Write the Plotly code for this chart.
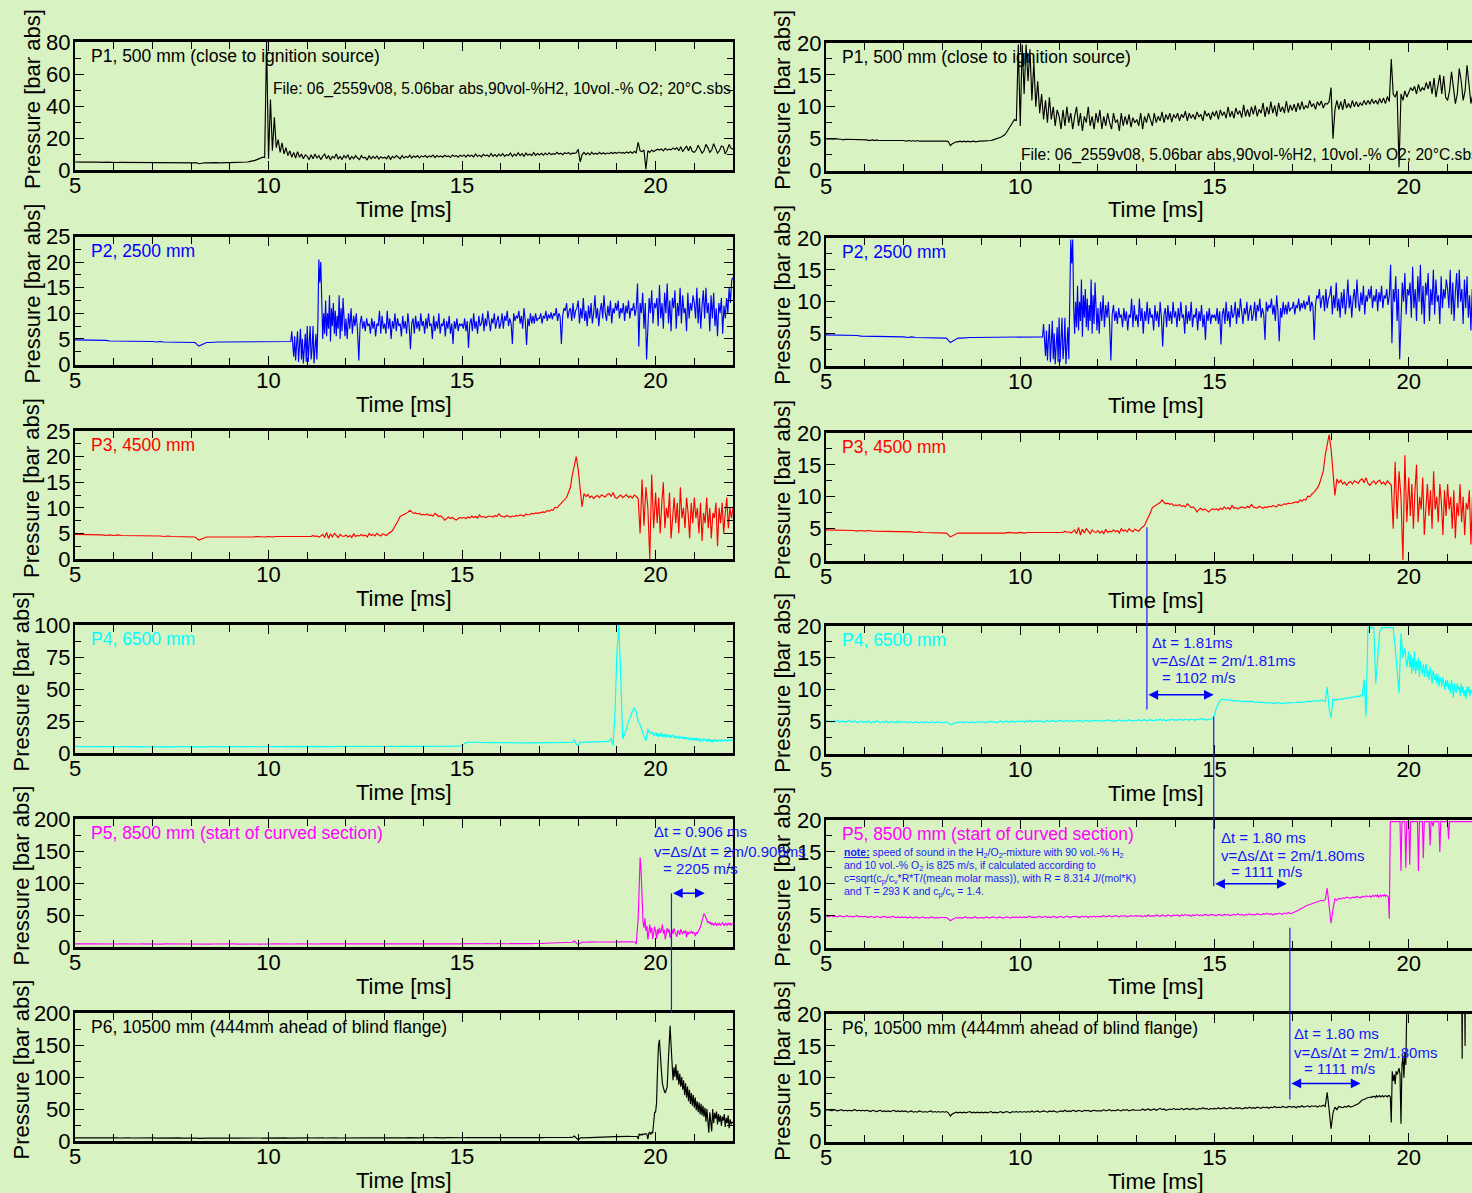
import numpy as np
import plotly.graph_objects as go

W, H = 1472, 1193
BG = "#d9f2c1"
FONT = "Liberation Sans, Arial, Helvetica, sans-serif"
BLUE_TXT = "#1414ff"

# ---------------------------------------------------------------------------
# DATA  (pressure in bar abs). Each row holds the samples of one millisecond,
# first row = 5-6 ms, last row = 21-22 ms; *_END is the value at 22 ms.
# ---------------------------------------------------------------------------
T_START = 5.0

P1_ROWS = [
    [5.0, 4.9, 5.0, 4.9, 4.9, 5.0, 4.9, 4.9, 4.9, 4.8, 4.9, 4.9, 4.8, 4.9, 4.8, 4.8, 4.9, 4.8, 4.8, 4.8],
    [4.8, 4.8, 4.7, 4.8, 4.8, 4.7, 4.8, 4.7, 4.7, 4.8, 4.7, 4.7, 4.8, 4.7, 4.7, 4.7, 4.8, 4.7, 4.7, 4.7],
    [4.7, 4.6, 4.7, 4.7, 4.6, 4.7, 4.6, 4.7, 4.6, 4.6, 4.7, 4.6, 4.6, 4.7, 4.6, 4.6, 4.6, 4.7, 4.6, 4.6],
    [4.6, 4.6, 4.6, 4.5, 3.9, 4.2, 4.4, 4.5, 4.5, 4.6, 4.5, 4.6, 4.5, 4.6, 4.5, 4.6, 4.6, 4.5, 4.6, 4.6],
    [4.6, 4.6, 4.7, 4.6, 4.7, 4.7, 4.8, 4.9, 5.0, 5.0, 5.2, 5.4, 5.6, 6.0, 6.5, 7.0, 7.5, 8.0, 7.8, 80.0],
    [7.0, 44.0, 12.0, 33.0, 14.0, 19.0, 11.0, 17.0, 10.0, 14.0, 9.0, 12.0, 8.0, 11.0, 7.5, 11.5, 8.0, 10.0, 7.0, 9.5],
    [8.5, 6.5, 9.5, 7.0, 10.0, 7.5, 9.0, 6.5, 8.5, 10.0, 7.0, 9.0, 6.2, 8.5, 7.5, 10.0, 7.0, 8.5, 6.5, 9.0],
    [7.5, 9.5, 6.5, 8.5, 7.0, 9.0, 7.5, 6.5, 9.0, 7.5, 8.0, 6.2, 9.0, 7.0, 8.5, 7.2, 8.8, 6.8, 8.3, 7.5],
    [8.0, 7.0, 9.0, 6.5, 8.5, 7.5, 9.0, 8.0, 7.0, 9.0, 7.5, 8.5, 7.8, 9.2, 7.5, 8.8, 8.0, 9.0, 7.6, 8.8],
    [8.2, 9.0, 7.8, 8.8, 8.3, 9.3, 7.8, 9.0, 8.2, 8.8, 8.0, 9.2, 8.4, 8.8, 7.8, 9.4, 8.5, 9.0, 8.0, 9.2],
    [8.5, 9.4, 8.0, 9.5, 8.6, 9.2, 8.2, 10.0, 8.4, 9.3, 8.2, 9.8, 8.8, 9.4, 8.3, 10.3, 8.5, 9.6, 8.4, 10.0],
    [8.8, 10.2, 8.5, 9.6, 9.0, 10.6, 8.4, 10.0, 8.8, 10.8, 9.0, 10.2, 8.5, 10.6, 9.2, 10.0, 9.0, 10.9, 9.1, 10.3],
    [9.4, 10.4, 9.2, 10.6, 9.5, 10.8, 9.6, 10.2, 9.8, 11.0, 10.0, 10.5, 9.6, 10.8, 10.2, 10.9, 9.8, 10.5, 10.4, 10.8],
    [13.0, 5.0, 9.5, 11.0, 9.6, 10.8, 9.5, 11.2, 9.8, 10.5, 9.8, 11.0, 10.0, 10.8, 10.0, 10.6, 10.2, 11.0, 10.3, 11.0],
    [10.4, 11.2, 10.5, 11.0, 10.4, 11.3, 10.6, 11.4, 10.5, 11.6, 10.8, 17.5, 12.0, 11.5, 12.5, 0.5, 12.0, 11.0, 12.5, 11.5],
    [12.2, 13.0, 12.5, 13.2, 12.0, 13.5, 12.4, 13.0, 12.6, 13.8, 12.8, 14.0, 12.0, 14.5, 11.5, 13.5, 15.0, 12.0, 14.8, 11.5],
    [11.0, 12.5, 15.5, 13.0, 10.5, 12.0, 16.0, 14.0, 11.0, 12.5, 16.5, 13.5, 10.5, 12.0, 15.0, 14.5, 10.0, 12.5, 16.0, 13.5],
]
P1_END = 13.0

P2_ROWS = [
    [4.8, 4.8, 4.8, 4.7, 4.7, 4.8, 4.7, 4.7, 4.7, 4.6],
    [4.6, 4.6, 4.6, 4.5, 4.6, 4.5, 4.5, 4.5, 4.5, 4.5],
    [4.5, 4.4, 4.5, 4.4, 4.4, 4.4, 4.4, 4.4, 4.3, 4.4],
    [4.3, 4.3, 3.6, 4.0, 4.3, 4.3, 4.4, 4.4, 4.4, 4.4],
    [4.4, 4.4, 4.4, 4.4, 4.4, 4.4, 4.4, 4.4, 4.4, 4.4],
    [4.4, 4.4, 4.4, 4.4, 4.4, 4.4, 4.4, 4.4, 4.4, 4.4, 4.4, 4.4, 4.4, 4.4, 4.4, 4.4, 4.4, 4.4, 4.4, 4.4,
     4.4, 4.4, 4.4, 4.5, 6.5, 4.0, 1.5, 5.5, 0.8, 4.0, 6.5, 0.5, 3.0, 7.0, 1.0, 5.0, 0.2, 4.5, 6.0, 0.5],
    [7.5, 0.5, 5.0, 7.5, 1.0, 3.0, 7.5, 0.2, 3.0, 6.0, 1.0, 8.0, 20.5, 16.0, 20.0, 9.0, 5.0, 10.0, 6.0, 12.5,
     5.5, 10.0, 7.0, 13.5, 4.5, 11.0, 7.5, 12.0, 6.0, 10.5, 5.5, 9.5, 7.0, 13.5, 5.0, 11.0, 6.5, 13.0, 8.0, 5.5],
    [9.0, 5.0, 10.0, 7.0, 11.0, 6.0, 9.5, 7.5, 10.0, 6.5, 0.8, 8.0, 9.5, 7.0, 8.5,
     6.5, 9.0, 7.5, 8.0, 6.0, 9.0, 7.0, 8.5, 5.5, 8.0, 7.5, 10.5, 6.0, 9.5, 7.0],
    [8.0, 6.0, 10.5, 7.0, 9.0, 5.0, 8.5, 7.0, 10.0, 6.5, 9.0, 7.5, 8.0, 5.5, 9.5,
     7.0, 8.5, 6.0, 10.0, 7.5, 3.0, 8.0, 9.0, 6.0, 9.5, 7.0, 8.5, 6.5, 10.0, 7.5],
    [8.5, 6.0, 9.0, 7.0, 10.0, 7.5, 8.0, 5.0, 9.5, 6.5, 8.5, 7.0, 10.0, 6.0, 8.0,
     7.5, 9.0, 5.5, 8.5, 7.0, 9.5, 6.0, 8.0, 4.0, 8.5, 7.0, 9.0, 6.5, 8.0, 7.5],
    [8.0, 7.0, 9.0, 6.5, 8.5, 3.3, 8.0, 9.0, 6.5, 10.0, 7.0, 8.5, 6.0, 9.5, 7.5,
     8.0, 10.0, 6.5, 9.0, 7.5, 10.5, 8.0, 6.5, 9.0, 8.0, 10.0, 7.0, 8.5, 9.5, 7.0],
    [8.0, 10.0, 7.0, 9.5, 8.5, 10.5, 7.5, 9.0, 8.0, 4.0, 10.0, 8.5, 9.5, 9.0, 10.5,
     8.0, 9.5, 7.0, 11.0, 8.5, 3.8, 9.0, 7.5, 10.0, 8.0, 9.5, 8.0, 10.0, 8.5, 9.0],
    [9.0, 10.0, 8.0, 9.5, 9.0, 10.5, 8.5, 9.8, 9.0, 10.2, 8.8, 10.0, 9.5, 11.0, 8.5,
     10.0, 9.3, 4.0, 9.5, 11.0, 10.5, 12.0, 9.0, 10.5, 11.0, 8.5, 12.0, 9.0, 10.5, 11.0],
    [12.5, 8.0, 11.0, 9.0, 13.0, 8.5, 10.5, 7.5, 11.5, 9.0, 12.0, 8.0, 10.0, 13.5, 9.0,
     11.0, 7.5, 10.5, 12.0, 9.0, 13.5, 10.0, 8.5, 11.5, 9.5, 12.5, 8.0, 11.0, 10.0, 12.0],
    [10.5, 12.5, 9.0, 11.0, 10.0, 12.0, 8.5, 11.5, 10.0, 12.5, 9.0, 11.0, 10.5, 12.0, 9.5,
     11.0, 15.8, 3.5, 12.0, 10.0, 14.0, 7.0, 12.0, 1.0, 9.0, 13.0, 10.0, 14.5, 8.0, 12.0],
    [11.0, 13.0, 7.5, 15.5, 9.0, 12.0, 7.0, 14.0, 10.0, 15.8, 8.0, 12.5, 6.5, 13.0, 11.0,
     14.5, 7.0, 12.0, 9.5, 15.0, 8.0, 13.5, 10.0, 11.0, 6.5, 14.0, 9.0, 12.0, 10.5, 13.5],
    [12.0, 9.0, 15.0, 8.0, 13.0, 7.0, 11.5, 14.5, 9.0, 15.0, 10.0, 12.0, 6.5, 13.5, 9.0,
     14.0, 7.5, 11.0, 5.5, 12.0, 10.0, 13.0, 6.0, 11.5, 9.0, 13.0, 10.0, 15.0, 12.0, 16.5],
]
P2_END = 17.0

P3_ROWS = [
    [4.8, 4.8, 4.7, 4.8, 4.7, 4.7, 4.7, 4.7, 4.6, 4.7],
    [4.6, 4.7, 4.6, 4.6, 4.6, 4.6, 4.5, 4.6, 4.5, 4.5],
    [4.5, 4.5, 4.5, 4.4, 4.5, 4.4, 4.4, 4.4, 4.4, 4.4],
    [4.4, 4.3, 3.7, 4.0, 4.3, 4.3, 4.3, 4.3, 4.3, 4.2],
    [4.3, 4.3, 4.2, 4.3, 4.3, 4.3, 4.3, 4.4, 4.3, 4.3],
    [4.4, 4.3, 4.4, 4.4, 4.4, 4.5, 4.4, 4.4, 4.5, 4.4],
    [4.4, 4.5, 4.4, 4.6, 4.4, 4.5, 4.3, 4.5, 4.8, 4.2, 5.2, 4.0, 4.9, 4.3, 5.0, 4.6, 4.2, 4.8, 4.5, 4.4],
    [4.7, 4.3, 4.6, 4.2, 4.9, 4.4, 4.6, 4.5, 4.8, 4.5, 4.7, 4.3, 5.0, 4.6, 4.8, 4.5, 5.0, 4.7, 4.5, 4.9],
    [4.8, 4.6, 5.0, 5.2, 5.5, 6.2, 6.8, 7.5, 8.3, 8.5, 8.8, 8.9, 9.1, 9.5, 9.1, 8.9, 9.0, 8.8, 8.9, 8.6],
    [8.7, 8.6, 8.8, 8.5, 8.6, 8.4, 8.9, 8.6, 8.3, 8.4, 8.1, 7.6, 8.0, 8.2, 7.9, 8.1, 7.8, 7.6, 7.9, 8.1],
    [8.0, 8.1, 7.9, 8.2, 8.0, 8.4, 8.1, 8.3, 8.0, 8.6, 8.2, 8.3, 8.1, 8.2, 8.4, 8.3, 8.2, 8.5, 8.3, 8.8],
    [8.4, 8.3, 8.2, 8.5, 8.3, 8.2, 8.4, 8.3, 8.5, 8.4, 8.6, 8.5, 8.4, 8.8, 8.6, 8.7, 8.9, 8.8, 9.0, 8.9],
    [9.0, 9.1, 9.2, 9.1, 9.5, 9.3, 9.6, 9.5, 10.1, 10.0, 10.4, 10.6, 11.0, 11.4, 12.0, 13.0, 14.0, 16.5, 18.5, 20.0],
    [17.5, 14.0, 10.2, 12.8, 12.2, 12.6, 12.0, 12.3, 11.8, 12.2, 12.4, 12.0, 12.5, 12.3, 12.1, 12.6, 12.8, 12.2, 13.0, 12.1],
    [11.8, 12.2, 12.5, 12.0, 12.4, 12.6, 12.0, 12.3, 11.9, 12.5, 12.2, 11.8, 5.0, 15.5, 6.5, 14.0, 10.0, 0.0, 16.5, 6.0],
    [13.0, 7.0, 12.0, 5.0, 11.0, 15.0, 6.0, 10.0, 8.0, 13.0, 4.0, 9.0, 12.0, 7.0, 11.0, 5.0, 14.0, 8.0, 10.0, 6.0,
     12.0, 9.0, 4.0, 11.0, 7.0],
    [12.0, 8.0, 10.0, 5.0, 11.0, 3.5, 9.0, 7.0, 12.0, 6.0, 10.0, 4.0, 9.0, 8.0, 11.0, 2.5, 10.0, 7.0, 11.0, 5.0,
     9.0, 12.0, 6.0, 10.0, 8.0],
]
P3_END = 10.0

P4_ROWS = [
    [5.2, 5.0, 5.1, 4.9, 5.1, 5.0, 5.2, 4.9, 5.0, 5.1, 4.9, 5.0, 5.2, 4.9, 5.0, 5.1, 4.8, 5.0, 5.1, 4.9],
    [5.0, 4.9, 5.1, 4.8, 5.0, 4.9, 5.1, 5.0, 4.8, 5.0, 4.9, 5.1, 4.8, 5.0, 4.9, 5.0, 4.8, 5.1, 4.9, 5.0],
    [4.9, 5.0, 4.8, 5.0, 4.9, 4.8, 5.0, 4.9, 4.8, 5.0, 4.9, 4.8, 5.0, 4.8, 4.9, 5.0, 4.8, 4.9, 5.0, 4.8],
    [4.9, 4.8, 5.0, 4.8, 4.5, 4.6, 4.8, 4.9, 4.8, 5.0, 4.9, 4.8, 5.0, 4.9, 4.8, 5.0, 4.9, 4.8, 5.0, 4.9],
    [4.9, 5.0, 4.8, 5.0, 4.9, 5.1, 4.9, 5.0, 4.8, 5.0, 5.1, 4.9, 5.0, 5.1, 4.9, 5.0, 5.1, 4.9, 5.0, 5.1],
    [5.0, 5.1, 4.9, 5.1, 5.0, 5.2, 4.9, 5.1, 5.0, 5.2, 5.0, 5.1, 4.9, 5.1, 5.2, 5.0, 5.1, 5.2, 5.0, 5.1],
    [5.1, 5.2, 5.0, 5.1, 5.2, 5.0, 5.2, 5.1, 5.0, 5.2, 5.1, 5.2, 5.0, 5.1, 5.2, 5.1, 5.0, 5.2, 5.1, 5.2],
    [5.1, 5.2, 5.0, 5.2, 5.1, 5.3, 5.1, 5.2, 5.0, 5.2, 5.1, 5.3, 5.1, 5.2, 5.0, 5.2, 5.3, 5.1, 5.2, 5.1],
    [5.2, 5.3, 5.1, 5.2, 5.3, 5.1, 5.2, 5.3, 5.2, 5.1, 5.3, 5.2, 5.4, 5.2, 5.3, 5.1, 5.3, 5.2, 5.4, 5.2],
    [5.3, 5.2, 5.4, 5.3, 5.2, 5.4, 5.3, 5.2, 5.4, 5.3, 5.2, 5.4, 5.3, 5.5, 5.3, 5.4, 5.2, 5.4, 5.3, 5.5],
    [6.0, 7.2, 7.9, 8.4, 8.5, 8.4, 8.5, 8.3, 8.4, 8.3, 8.2, 8.3, 8.2, 8.3, 8.1, 8.2, 8.1, 8.2, 8.1, 8.2],
    [8.1, 8.0, 8.1, 8.0, 8.1, 8.0, 7.9, 8.0, 7.9, 8.0, 7.9, 7.8, 7.9, 8.0, 7.9, 7.8, 7.9, 7.9, 8.0, 7.9],
    [8.0, 7.9, 8.0, 8.1, 8.0, 8.1, 8.0, 8.1, 8.2, 8.1, 8.2, 8.3, 8.2, 8.3, 8.2, 8.4, 8.3, 8.2, 10.4, 7.0],
    [5.6, 8.6, 8.3, 8.5, 8.4, 8.6, 8.5, 8.7, 8.6, 8.8, 8.7, 8.9, 8.8, 9.0, 8.9, 9.1, 9.0, 11.6, 5.8, 30.0],
    [78.0, 100.0, 60.0, 11.0, 15.0, 19.0, 25.0, 28.0, 33.0, 35.0, 32.0, 25.0, 22.0, 16.8, 13.0, 9.5, 18.9, 15.0, 16.5, 13.5],
    [16.0, 13.5, 15.5, 12.5, 15.0, 13.0, 16.0, 12.5, 14.5, 13.0, 15.0, 12.0, 14.5, 13.5, 12.5, 14.0, 12.0, 13.5, 14.0, 12.0,
     13.0, 11.5, 13.5, 12.5, 11.0, 13.0, 12.0, 11.5, 12.5, 11.0, 12.5, 10.5, 12.0, 11.5, 10.5, 12.0, 11.0, 10.0, 11.5, 10.5],
    [11.5, 10.0, 11.0, 9.5, 11.5, 10.5, 8.7, 11.0, 10.0, 9.5, 11.0, 10.0, 10.5, 9.0, 11.0, 9.5, 10.5, 9.0, 10.0, 8.5,
     10.5, 9.5, 10.5, 9.0, 10.0, 9.5, 10.0, 9.0, 10.5, 9.5, 10.0, 9.5, 10.5, 9.8, 9.2, 10.2, 9.6, 10.4, 9.8, 10.2],
]
P4_END = 10.0

P5_ROWS = [
    [5.0, 4.8, 4.9, 5.0, 4.8, 4.9, 4.8, 5.0, 4.9, 4.8, 4.9, 5.0, 4.8, 4.9, 4.8, 4.9, 5.0, 4.8, 4.9, 4.8],
    [4.9, 4.8, 4.7, 4.9, 4.8, 4.7, 4.9, 4.8, 4.7, 4.8, 4.9, 4.7, 4.8, 4.7, 4.9, 4.8, 4.7, 4.8, 4.7, 4.8],
    [4.7, 4.8, 4.6, 4.8, 4.7, 4.6, 4.8, 4.7, 4.6, 4.7, 4.8, 4.6, 4.7, 4.6, 4.8, 4.7, 4.6, 4.7, 4.6, 4.7],
    [4.7, 4.6, 4.7, 4.5, 4.2, 4.4, 4.6, 4.7, 4.6, 4.7, 4.6, 4.7, 4.8, 4.6, 4.7, 4.6, 4.7, 4.8, 4.6, 4.7],
    [4.7, 4.6, 4.7, 4.8, 4.6, 4.7, 4.8, 4.7, 4.6, 4.8, 4.7, 4.6, 4.7, 4.8, 4.7, 4.6, 4.8, 4.7, 4.8, 4.7],
    [4.8, 4.7, 4.8, 4.7, 4.8, 4.9, 4.7, 4.8, 4.7, 4.8, 4.9, 4.7, 4.8, 4.9, 4.7, 4.8, 4.7, 4.9, 4.8, 4.7],
    [4.8, 4.9, 4.7, 4.8, 4.9, 4.8, 4.7, 4.9, 4.8, 4.9, 4.7, 4.8, 4.9, 4.8, 4.9, 4.7, 4.9, 4.8, 4.9, 4.8],
    [4.9, 4.8, 4.9, 5.0, 4.8, 4.9, 5.0, 4.8, 4.9, 5.0, 4.9, 4.8, 5.0, 4.9, 5.0, 4.8, 4.9, 5.0, 4.9, 5.0],
    [5.0, 4.9, 5.0, 4.8, 5.0, 4.9, 5.1, 4.9, 5.0, 4.9, 5.1, 5.0, 4.9, 5.1, 5.0, 4.9, 5.1, 5.0, 4.9, 5.1],
    [5.0, 5.1, 4.9, 5.1, 5.0, 5.2, 5.0, 5.1, 4.9, 5.1, 5.0, 5.2, 5.0, 5.1, 5.0, 5.2, 5.1, 5.0, 5.2, 5.1],
    [5.1, 5.0, 5.2, 5.1, 5.0, 5.2, 5.1, 5.2, 5.0, 5.1, 5.2, 5.1, 5.3, 5.1, 5.2, 5.0, 5.2, 5.1, 5.3, 5.1],
    [5.2, 5.1, 5.3, 5.2, 5.1, 5.3, 5.2, 5.4, 5.2, 5.3, 5.1, 5.3, 5.2, 5.4, 5.3, 5.2, 5.4, 5.3, 5.5, 5.3],
    [5.4, 5.5, 5.6, 5.8, 6.0, 6.1, 6.3, 6.5, 6.6, 6.8, 6.9, 7.0, 7.1, 7.2, 7.3, 7.4, 7.3, 7.5, 9.3, 6.5],
    [3.8, 6.0, 7.6, 7.4, 7.7, 7.6, 7.8, 7.7, 7.9, 7.8, 7.7, 7.9, 7.8, 8.0, 7.9, 7.8, 8.0, 7.9, 8.1, 8.0],
    [8.1, 7.9, 8.0, 8.2, 8.0, 8.1, 8.2, 8.0, 8.3, 7.9, 8.1, 8.2, 8.0, 8.2, 8.1, 8.3, 8.0, 8.2, 8.1, 7.9,
     4.5, 21.0, 45.0, 90.0, 140.0, 120.0, 70.0, 40.0, 30.0, 45.0, 25.0, 33.0, 12.0, 28.0, 35.0, 22.0, 30.0, 12.5, 26.0, 32.0],
    [24.0, 13.0, 28.0, 20.0, 30.0, 22.0, 26.0, 35.0, 21.0, 27.0, 12.0, 25.0, 30.0, 23.0, 28.0, 14.0, 22.0, 27.0, 20.0, 29.0,
     24.0, 21.0, 16.0, 26.0, 22.0, 19.0, 28.0, 23.0, 20.0, 25.0, 22.0, 26.0, 15.0, 24.0, 20.0, 23.0, 22.0, 25.0, 21.0, 23.0],
    [22.0, 17.0, 23.0, 21.0, 24.0, 26.0, 30.0, 35.0, 42.0, 48.0, 52.0, 50.0, 45.0, 42.0, 38.0, 40.0, 36.0, 38.0, 35.0, 37.0,
     34.0, 36.0, 38.0, 33.0, 36.0, 35.0, 37.0, 34.0, 36.0, 38.0, 35.0, 33.0, 37.0, 36.0, 34.0, 38.0, 35.0, 37.0, 34.0, 36.0],
]
P5_END = 37.0

P6_ROWS = [
    [4.9, 5.0, 4.9, 4.8, 5.0, 4.9, 4.8, 4.9, 5.0, 4.8, 4.9, 4.8, 4.9, 4.8, 4.9, 5.0, 4.8, 4.9, 4.8, 4.9],
    [4.8, 4.9, 4.8, 4.7, 4.9, 4.8, 4.7, 4.8, 4.9, 4.7, 4.8, 4.7, 4.8, 4.7, 4.8, 4.9, 4.7, 4.8, 4.7, 4.8],
    [4.7, 4.8, 4.6, 4.7, 4.8, 4.6, 4.7, 4.6, 4.8, 4.7, 4.6, 4.7, 4.6, 4.7, 4.8, 4.6, 4.7, 4.6, 4.7, 4.6],
    [4.7, 4.6, 4.7, 4.5, 4.0, 4.3, 4.5, 4.6, 4.5, 4.6, 4.5, 4.6, 4.5, 4.6, 4.7, 4.5, 4.6, 4.5, 4.6, 4.5],
    [4.6, 4.5, 4.6, 4.5, 4.6, 4.7, 4.5, 4.6, 4.5, 4.6, 4.7, 4.5, 4.6, 4.7, 4.6, 4.5, 4.7, 4.6, 4.7, 4.6],
    [4.7, 4.6, 4.7, 4.6, 4.7, 4.6, 4.8, 4.6, 4.7, 4.8, 4.6, 4.7, 4.8, 4.7, 4.6, 4.8, 4.7, 4.8, 4.7, 4.6],
    [4.7, 4.8, 4.7, 4.9, 4.7, 4.8, 4.7, 4.9, 4.8, 4.7, 4.9, 4.8, 4.7, 4.9, 4.8, 4.9, 4.7, 4.8, 4.9, 4.8],
    [4.8, 4.9, 4.8, 5.0, 4.8, 4.9, 5.0, 4.8, 4.9, 4.8, 5.0, 4.9, 4.8, 5.0, 4.9, 5.0, 4.8, 4.9, 5.0, 4.9],
    [4.9, 5.0, 4.9, 5.1, 4.9, 5.0, 5.1, 4.9, 5.0, 5.1, 4.9, 5.0, 5.2, 5.0, 5.1, 4.9, 5.0, 5.1, 5.0, 5.2],
    [5.0, 5.1, 5.0, 5.2, 5.0, 5.1, 5.2, 5.0, 5.1, 5.2, 5.1, 5.0, 5.2, 5.1, 5.3, 5.1, 5.2, 5.0, 5.2, 5.1],
    [5.2, 5.1, 5.3, 5.1, 5.2, 5.3, 5.1, 5.2, 5.3, 5.2, 5.1, 5.3, 5.2, 5.3, 5.1, 5.2, 5.3, 5.2, 5.4, 5.2],
    [5.3, 5.2, 5.4, 5.3, 5.2, 5.4, 5.3, 5.4, 5.2, 5.4, 5.3, 5.5, 5.3, 5.4, 5.3, 5.5, 5.4, 5.3, 5.5, 5.4],
    [5.4, 5.5, 5.3, 5.5, 5.4, 5.6, 5.4, 5.5, 5.6, 5.4, 5.6, 5.5, 5.6, 5.4, 5.6, 5.5, 5.7, 5.5, 7.7, 5.0],
    [2.0, 4.5, 5.4, 5.0, 5.5, 5.4, 5.3, 5.5, 5.4, 5.6, 5.4, 5.5, 5.6, 5.7, 5.9, 6.2, 6.5, 6.6, 6.8, 6.9],
    [6.9, 7.0, 6.9, 7.1, 7.0, 7.1, 6.9, 7.2, 7.0, 7.1, 7.2, 7.0, 7.1, 7.2, 7.0, 7.1, 7.2, 7.1, 7.0, 7.2,
     7.2, 7.0, 3.0, 11.0, 9.5, 10.5, 9.0, 11.0, 10.5, 11.0, 11.5, 10.5, 2.8, 12.0, 13.5, 10.0, 14.0, 12.0, 25.0, 45.0],
    [45.0, 60.0, 110.0, 150.0, 158.0, 140.0, 110.0, 90.0, 82.0, 78.0, 75.0, 80.0, 85.0, 120.0, 165.0, 180.0, 150.0, 110.0, 95.0, 115.0,
     100.0, 120.0, 95.0, 110.0, 88.0, 105.0, 85.0, 100.0, 80.0, 95.0, 72.0, 90.0, 68.0, 85.0, 62.0, 80.0, 58.0, 75.0, 55.0, 72.0],
    [52.0, 68.0, 48.0, 62.0, 45.0, 60.0, 42.0, 58.0, 40.0, 55.0, 38.0, 52.0, 30.0, 50.0, 35.0, 13.0, 45.0, 32.0, 15.0, 50.0,
     28.0, 44.0, 35.0, 46.0, 26.0, 42.0, 30.0, 40.0, 24.0, 38.0, 32.0, 42.0, 22.0, 36.0, 28.0, 40.0, 20.0, 34.0, 26.0, 30.0],
]
P6_END = 28.0

SENSOR_ROWS = [P1_ROWS, P2_ROWS, P3_ROWS, P4_ROWS, P5_ROWS, P6_ROWS]
SENSOR_END = [P1_END, P2_END, P3_END, P4_END, P5_END, P6_END]
SENSOR_LABELS = [
    "P1, 500 mm (close to ignition source)",
    "P2, 2500 mm",
    "P3, 4500 mm",
    "P4, 6500 mm",
    "P5, 8500 mm (start of curved section)",
    "P6, 10500 mm (444mm ahead of blind flange)",
]
SENSOR_COLORS = ["#000000", "#0000ff", "#ff0000", "#00ffff", "#ff00ff", "#000000"]
LEFT_YMAX = [80, 25, 25, 100, 200, 200]
LEFT_YDTICK = [20, 5, 5, 25, 50, 50]
RIGHT_YMAX = 20
RIGHT_YDTICK = 5
RIGHT_CLIP = [True, True, True, True, True, False]   # recorder clipped at full scale
FILE_TEXT = "File: 06_2559v08, 5.06bar abs,90vol-%H2, 10vol.-% O2; 20°C.sbs"

# time-of-arrival annotations: (t_start, t_end) in ms
DT_LEFT = (20.41, 21.27)
DT_RIGHT = [(13.26, 14.98), (14.98, 16.86), (16.94, 18.76)]
DT_TEXTS_LEFT = ["Δt = 0.906 ms", "v=Δs/Δt = 2m/0.906ms", "= 2205 m/s"]
DT_TEXTS_RIGHT = [
    ["Δt = 1.81ms", "v=Δs/Δt = 2m/1.81ms", "= 1102 m/s"],
    ["Δt = 1.80 ms", "v=Δs/Δt = 2m/1.80ms", "= 1111 m/s"],
    ["Δt = 1.80 ms", "v=Δs/Δt = 2m/1.80ms", "= 1111 m/s"],
]
NOTE_LINES = [
    "<b><u>note:</u></b> speed of sound in the H<sub>2</sub>/O<sub>2</sub>-mixture with 90 vol.-% H<sub>2</sub>",
    "and 10 vol.-% O<sub>2</sub> is 825 m/s, if calculated according to",
    "c=sqrt(c<sub>p</sub>/c<sub>v</sub>*R*T/(mean molar mass)), with R = 8.314 J/(mol*K)",
    "and T = 293 K and c<sub>p</sub>/c<sub>v</sub> = 1.4.",
]

# ---------------------------------------------------------------------------
# LAYOUT GEOMETRY (pixels)
# ---------------------------------------------------------------------------
LEFT_X = (75, 733)
RIGHT_X = (826, 1472)
PX_PER_MS = 38.85
TOPS = [[42, 236.5, 431, 625, 819, 1013], [43, 238, 433, 626, 820, 1014]]
PLOT_H = [128, 127.5]
X_RANGE = [(5, 22), (5, 5 + (RIGHT_X[1] - RIGHT_X[0]) / PX_PER_MS)]
TXT = 22


def series(rows, end):
    t, v = [], []
    for k, row in enumerate(rows):
        n = len(row)
        for i, val in enumerate(row):
            t.append(T_START + k + i / n)
            v.append(val)
    t.append(T_START + len(rows))
    v.append(end)
    return np.array(t), np.array(v, dtype=float)


def ax_num(col, row):
    return row + 1 + 6 * col


def ydom(col, row):
    top = TOPS[col][row]
    return [1 - (top + PLOT_H[col]) / H, 1 - top / H]


def yrange(col, row):
    return (0, LEFT_YMAX[row]) if col == 0 else (0, RIGHT_YMAX)


def paper_y(col, row, v):
    d = ydom(col, row)
    r = yrange(col, row)
    return d[0] + (v - r[0]) / (r[1] - r[0]) * (d[1] - d[0])


def paper_x(col, t):
    xr = X_RANGE[col]
    xpx = LEFT_X if col == 0 else RIGHT_X
    return (xpx[0] + (t - xr[0]) / (xr[1] - xr[0]) * (xpx[1] - xpx[0])) / W


fig = go.Figure()
layout = {}
annotations = []
shapes = []

for col in range(2):
    xpx = LEFT_X if col == 0 else RIGHT_X
    for row in range(6):
        n = ax_num(col, row)
        sfx = "" if n == 1 else str(n)
        t, v = series(SENSOR_ROWS[row], SENSOR_END[row])
        if col == 1 and RIGHT_CLIP[row]:
            v = np.minimum(v, RIGHT_YMAX - 0.25)
        fig.add_trace(go.Scatter(
            x=t, y=v, mode="lines", xaxis="x" + sfx, yaxis="y" + sfx,
            line=dict(color=SENSOR_COLORS[row], width=1.15), hoverinfo="skip",
            showlegend=False,
        ))
        ymax = LEFT_YMAX[row] if col == 0 else RIGHT_YMAX
        ydt = LEFT_YDTICK[row] if col == 0 else RIGHT_YDTICK
        layout["xaxis" + sfx] = dict(
            domain=[xpx[0] / W, xpx[1] / W], range=list(X_RANGE[col]), anchor="y" + sfx,
            automargin=False, ticklabelstandoff=-6,
            tickmode="linear", tick0=0, dtick=5, ticks="inside", ticklen=9, tickwidth=1.3,
            tickcolor="black", showline=True, linewidth=3, linecolor="black",
            mirror="allticks", showgrid=False, zeroline=False,
            minor=dict(tickmode="linear", tick0=0, dtick=1, ticks="inside", ticklen=7,
                       tickwidth=1.1, tickcolor="black", showgrid=False),
            tickfont=dict(family=FONT, size=TXT, color="black"),
        )
        layout["yaxis" + sfx] = dict(
            domain=ydom(col, row), range=[0, ymax], anchor="x" + sfx,
            automargin=False, ticklabelstandoff=-2,
            tickmode="linear", tick0=0, dtick=ydt, ticks="inside", ticklen=9, tickwidth=1.3,
            tickcolor="black", showline=True, linewidth=2, linecolor="black",
            mirror="allticks" if col == 0 else False, showgrid=False, zeroline=False,
            minor=dict(tickmode="linear", tick0=0, dtick=ydt / 2, ticks="inside", ticklen=6,
                       tickwidth=1.1, tickcolor="black", showgrid=False),
            tickfont=dict(family=FONT, size=TXT, color="black"),
        )
        top = TOPS[col][row]
        bottom = top + PLOT_H[col]
        # axis titles
        annotations.append(dict(
            text="Time [ms]", xref="x" + sfx, x=13.5, yref="paper", y=1 - (bottom + 39.5) / H,
            showarrow=False, xanchor="center", yanchor="middle",
            font=dict(family=FONT, size=TXT, color="black")))
        ndig = len(str(ymax))
        annotations.append(dict(
            text="Pressure [bar abs]", xref="paper", x=(xpx[0] - 20 - 11.5 * ndig) / W,
            yref="paper", y=1 - (top + PLOT_H[col] / 2 - 7) / H, textangle=-90,
            showarrow=False, xanchor="center", yanchor="middle",
            font=dict(family=FONT, size=TXT, color="black")))
        # sensor label
        annotations.append(dict(
            text=SENSOR_LABELS[row], xref="paper", x=(xpx[0] + 14) / W,
            yref="paper", y=1 - (top + 14) / H, showarrow=False,
            xanchor="left", yanchor="middle",
            font=dict(family=FONT, size=17.5, color=SENSOR_COLORS[row])))

# file name texts
annotations.append(dict(text=FILE_TEXT, xref="paper", x=271 / W, yref="paper", y=1 - 89 / H,
                        showarrow=False, xanchor="left", yanchor="middle",
                        font=dict(family=FONT, size=15.6, color="black")))
annotations.append(dict(text=FILE_TEXT, xref="paper", x=1019 / W, yref="paper", y=1 - 155 / H,
                        showarrow=False, xanchor="left", yanchor="middle",
                        font=dict(family=FONT, size=15.6, color="black")))

BLUE_LINE = "#1a1aff"


def vline(col, t, row_a, v_a, row_b, v_b):
    shapes.append(dict(type="line", xref="paper", yref="paper",
                       x0=paper_x(col, t), x1=paper_x(col, t),
                       y0=paper_y(col, row_a, v_a), y1=paper_y(col, row_b, v_b),
                       line=dict(color=BLUE_LINE, width=1.2)))


def darrow(col, row, t0, t1, v):
    n = ax_num(col, row)
    sfx = "" if n == 1 else str(n)
    annotations.append(dict(
        x=t1, y=v, ax=t0, ay=v, xref="x" + sfx, yref="y" + sfx, axref="x" + sfx, ayref="y" + sfx,
        text="", showarrow=True, arrowhead=2, startarrowhead=2, arrowside="end+start",
        arrowsize=1.3, startarrowsize=1.3, arrowwidth=1.5, arrowcolor="#0000ff",
        standoff=0, startstandoff=0))


def dtext(col, row, t, values, texts, indent):
    n = ax_num(col, row)
    sfx = "" if n == 1 else str(n)
    for k, (val, txt) in enumerate(zip(values, texts)):
        annotations.append(dict(
            text=txt, xref="x" + sfx, x=t + (indent if k == 2 else 0), yref="y" + sfx, y=val,
            showarrow=False, xanchor="left", yanchor="middle",
            font=dict(family=FONT, size=15, color=BLUE_TXT)))


# left: P5 -> P6
vline(0, DT_LEFT[0], 4, 84, 5, 200)
darrow(0, 4, DT_LEFT[0], DT_LEFT[1], 84)
dtext(0, 4, 19.92, [180, 149, 122], DT_TEXTS_LEFT, 0.22)

# right: P3 -> P4 -> P5 -> P6
vline(1, DT_RIGHT[0][0], 2, 5.2, 3, 6.9)
darrow(1, 3, DT_RIGHT[0][0], DT_RIGHT[0][1], 9.2)
dtext(1, 3, 13.34, [17.4, 14.6, 11.9], DT_TEXTS_RIGHT[0], 0.25)

vline(1, DT_RIGHT[1][0], 3, 5.8, 4, 9.6)
darrow(1, 4, DT_RIGHT[1][0], DT_RIGHT[1][1], 10.0)
dtext(1, 4, 15.12, [17.3, 14.4, 11.9], DT_TEXTS_RIGHT[1], 0.25)

vline(1, DT_RIGHT[2][0], 4, 3.1, 5, 6.6)
darrow(1, 5, DT_RIGHT[2][0], DT_RIGHT[2][1], 9.1)
dtext(1, 5, 17.0, [16.9, 13.9, 11.4], DT_TEXTS_RIGHT[2], 0.25)

# note in right P5 panel
note_top = TOPS[1][4] + 33
for k, line in enumerate(NOTE_LINES):
    annotations.append(dict(
        text=line, xref="paper", x=842 / W, yref="paper", y=1 - (note_top + 13 * k) / H,
        showarrow=False, xanchor="left", yanchor="middle",
        font=dict(family=FONT, size=10.5, color="#1a1aff")))

fig.update_layout(
    width=W, height=H, margin=dict(l=0, r=0, t=0, b=0, pad=0),
    paper_bgcolor=BG, plot_bgcolor=BG, showlegend=False,
    annotations=annotations, shapes=shapes, **layout,
)

fig.write_html("out.html")
